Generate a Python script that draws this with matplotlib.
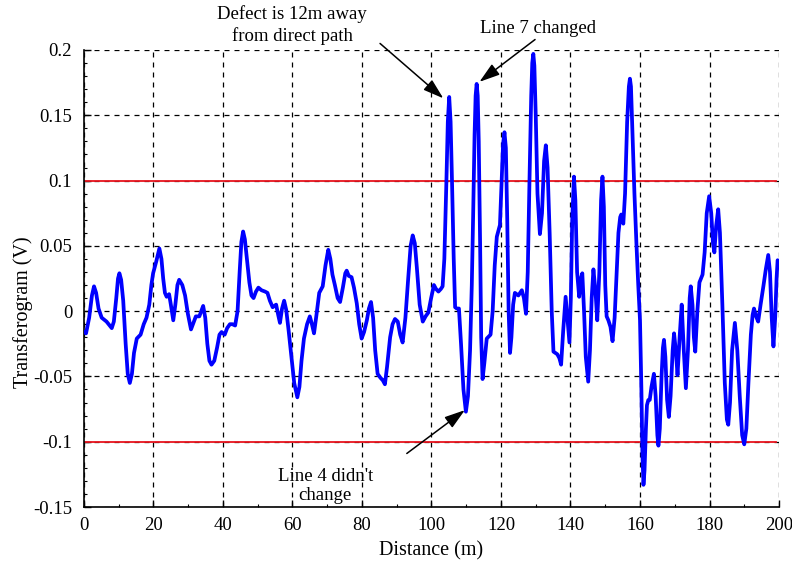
import matplotlib
matplotlib.use("Agg")
import matplotlib.pyplot as plt
from matplotlib.ticker import MultipleLocator, FixedLocator, FixedFormatter

distance = [
    0.0, 0.6, 1.5, 2.3, 2.9, 3.5, 4.2, 5.1, 6.5, 8.0, 8.6, 9.3, 9.8, 10.2, 10.7, 11.3, 12.0, 12.6, 13.2,
    13.8, 14.4, 15.2, 16.3, 17.2, 18.0, 18.8, 19.4, 19.9, 20.8, 21.7, 22.3, 22.8, 23.3, 23.8, 24.5, 25.0,
    25.7, 26.3, 26.9, 27.4, 28.3, 29.1, 29.9, 30.8, 31.5, 32.2, 33.2, 34.3, 34.9, 35.5, 36.1, 36.7, 37.5,
    38.3, 39.0, 39.6, 40.5, 41.2, 42.0, 42.7, 43.5, 44.2, 44.8, 45.3, 45.8, 46.3, 46.9, 47.6, 48.2, 48.8,
    49.5, 50.2, 51.1, 52.1, 52.8, 53.5, 54.3, 55.3, 55.9, 56.4, 57.0, 57.6, 58.2, 58.9, 59.7, 60.5, 61.4,
    62.0, 62.6, 63.3, 64.2, 65.0, 65.6, 66.2, 66.9, 67.7, 68.7, 69.5, 70.3, 70.9, 71.5, 72.2, 73.0, 73.7,
    74.5, 75.2, 75.6, 76.2, 77.0, 77.7, 78.5, 79.2, 79.9, 80.6, 81.4, 82.0, 82.6, 83.2, 83.8, 84.5, 85.3,
    86.0, 86.6, 87.2, 88.1, 88.8, 89.5, 90.3, 91.0, 91.7, 92.5, 93.3, 94.0, 94.6, 95.2, 95.8, 96.6, 97.5,
    98.3, 99.1, 99.9, 100.7, 101.3, 102.0, 102.7, 103.2, 103.7, 104.3, 104.7, 105.1, 105.5, 105.9, 106.4,
    106.8, 107.3, 107.9, 108.5, 109.2, 109.9, 110.5, 111.1, 111.6, 112.0, 112.4, 112.7, 113.0, 113.3,
    113.6, 114.0, 114.3, 114.7, 115.2, 115.9, 117.0, 117.6, 118.2, 118.8, 119.7, 120.2, 120.6, 121.0,
    121.4, 121.8, 122.2, 122.6, 123.0, 123.5, 124.0, 125.0, 126.0, 126.6, 127.2, 127.7, 128.2, 128.7,
    129.0, 129.3, 129.6, 130.0, 130.5, 131.2, 131.8, 132.4, 132.9, 133.4, 134.0, 134.6, 135.1, 136.2,
    136.8, 137.3, 137.9, 138.6, 139.2, 139.7, 140.1, 140.5, 141.0, 141.4, 141.9, 142.5, 143.0, 143.4,
    143.9, 144.4, 145.1, 145.6, 146.1, 146.6, 147.2, 147.7, 148.3, 148.8, 149.2, 149.6, 150.0, 150.4,
    150.9, 151.5, 152.1, 152.7, 153.3, 153.8, 154.3, 154.6, 155.2, 155.7, 156.3, 156.8, 157.1, 157.4,
    157.8, 158.4, 159.0, 159.5, 160.0, 160.4, 160.7, 161.0, 161.3, 161.7, 162.0, 162.4, 162.8, 163.3,
    164.0, 164.5, 165.0, 165.3, 165.7, 166.2, 166.6, 166.9, 167.3, 167.8, 168.3, 168.8, 169.4, 169.8,
    170.3, 170.8, 171.4, 172.0, 172.6, 173.2, 173.8, 174.3, 174.6, 175.1, 175.5, 175.9, 176.5, 177.1,
    178.0, 178.6, 179.2, 179.9, 180.5, 181.0, 181.4, 181.9, 182.5, 183.0, 183.7, 184.4, 185.0, 185.4,
    185.9, 186.5, 187.3, 188.0, 188.7, 189.4, 190.0, 190.6, 191.2, 191.9, 192.4, 192.8, 193.4, 194.0,
    194.7, 195.5, 196.2, 196.9, 197.4, 197.9, 198.4, 198.9, 199.3, 199.6]
transferogram = [
    -0.016, -0.017, -0.005, 0.012, 0.019, 0.014, 0.002, -0.005, -0.008, -0.013, -0.008, 0.010, 0.025,
    0.029, 0.024, 0.008, -0.025, -0.048, -0.055, -0.048, -0.032, -0.021, -0.018, -0.010, -0.005, 0.005,
    0.020, 0.029, 0.038, 0.048, 0.040, 0.025, 0.014, 0.011, 0.013, 0.005, -0.007, 0.005, 0.020, 0.024,
    0.020, 0.012, -0.002, -0.014, -0.009, -0.004, -0.004, 0.004, -0.005, -0.025, -0.038, -0.041, -0.038,
    -0.028, -0.018, -0.016, -0.018, -0.013, -0.010, -0.010, -0.011, 0.000, 0.030, 0.053, 0.061, 0.055,
    0.040, 0.022, 0.012, 0.010, 0.015, 0.018, 0.016, 0.015, 0.014, 0.008, 0.003, 0.005, -0.003, -0.009,
    0.002, 0.008, 0.001, -0.015, -0.035, -0.055, -0.066, -0.058, -0.038, -0.021, -0.010, -0.004, -0.010,
    -0.017, -0.003, 0.014, 0.019, 0.035, 0.047, 0.040, 0.028, 0.020, 0.010, 0.007, 0.018, 0.029, 0.031,
    0.027, 0.026, 0.018, 0.006, -0.010, -0.021, -0.016, -0.007, 0.002, 0.007, -0.005, -0.030, -0.048,
    -0.051, -0.053, -0.056, -0.043, -0.020, -0.010, -0.006, -0.008, -0.018, -0.024, -0.005, 0.025, 0.050,
    0.058, 0.052, 0.033, 0.005, -0.008, -0.004, -0.001, 0.010, 0.020, 0.017, 0.015, 0.017, 0.019, 0.040,
    0.100, 0.145, 0.164, 0.145, 0.100, 0.040, 0.003, 0.002, 0.002, -0.025, -0.060, -0.077, -0.065, -0.030,
    0.020, 0.075, 0.135, 0.165, 0.174, 0.165, 0.130, 0.050, -0.020, -0.052, -0.040, -0.021, -0.018, 0.000,
    0.035, 0.057, 0.066, 0.100, 0.128, 0.137, 0.125, 0.070, 0.000, -0.032, -0.020, 0.005, 0.014, 0.012,
    0.016, 0.010, -0.002, 0.030, 0.100, 0.165, 0.190, 0.197, 0.188, 0.150, 0.090, 0.059, 0.075, 0.115,
    0.127, 0.110, 0.060, 0.000, -0.031, -0.033, -0.036, -0.041, -0.015, 0.011, -0.008, -0.024, 0.010,
    0.070, 0.103, 0.085, 0.030, 0.011, 0.025, 0.029, 0.000, -0.035, -0.054, -0.030, 0.010, 0.032, 0.015,
    -0.007, 0.030, 0.085, 0.103, 0.080, 0.020, -0.004, -0.007, -0.012, -0.023, -0.005, 0.030, 0.060,
    0.072, 0.074, 0.067, 0.090, 0.145, 0.172, 0.178, 0.172, 0.140, 0.090, 0.050, 0.020, -0.007, -0.060,
    -0.110, -0.133, -0.122, -0.090, -0.072, -0.068, -0.068, -0.058, -0.048, -0.065, -0.095, -0.103,
    -0.090, -0.050, -0.028, -0.022, -0.035, -0.068, -0.081, -0.065, -0.030, -0.017, -0.030, -0.049,
    -0.020, 0.005, -0.030, -0.059, -0.030, 0.010, 0.019, 0.005, -0.020, -0.031, 0.000, 0.022, 0.028,
    0.045, 0.075, 0.088, 0.075, 0.052, 0.045, 0.065, 0.078, 0.060, 0.005, -0.055, -0.083, -0.087, -0.070,
    -0.030, -0.009, -0.030, -0.065, -0.095, -0.102, -0.090, -0.055, -0.018, -0.003, 0.002, -0.004, -0.008,
    0.005, 0.019, 0.032, 0.043, 0.030, -0.005, -0.027, -0.005, 0.025, 0.039]

threshold = 0.1
x_ticks = [0, 20, 40, 60, 80, 100, 120, 140, 160, 180, 200]
y_ticks = [-0.15, -0.1, -0.05, 0, 0.05, 0.1, 0.15, 0.2]
y_tick_labels = ["-0.15", "-0.1", "-0.05", "0", "0.05", "0.1", "0.15", "0.2"]

plt.rcParams['font.family'] = ['Liberation Serif', 'DejaVu Serif']

fig = plt.figure(figsize=(7.92, 5.66), dpi=100)
ax = fig.add_axes([0.106, 0.1042, 0.8776, 0.8075])

ax.plot(distance, transferogram, color='#0000ff', lw=2.7, solid_joinstyle='round',
        solid_capstyle='round', zorder=3)
ax.plot([0, 199], [threshold, threshold], color='#e8141e', lw=1.3, zorder=2)
ax.plot([0, 199], [-threshold, -threshold], color='#e8141e', lw=1.3, zorder=2)

ax.set_xlim(0, 200)
ax.set_ylim(-0.15, 0.2)
ax.xaxis.set_major_locator(FixedLocator(x_ticks))
ax.xaxis.set_minor_locator(MultipleLocator(10))
ax.yaxis.set_major_locator(FixedLocator(y_ticks))
ax.yaxis.set_major_formatter(FixedFormatter(y_tick_labels))
ax.yaxis.set_minor_locator(MultipleLocator(0.01))
ax.tick_params(which='both', direction='in', top=False, right=False, labelsize=13.5, color='black')
ax.tick_params(which='major', length=5, width=1)
ax.tick_params(which='minor', length=2.5, width=0.8)
ax.tick_params(axis='y', which='major', pad=8.5)
ax.tick_params(axis='x', which='major', pad=7)
ax.grid(True, which='major', color='black', ls=(0, (4, 4)), lw=0.9)
ax.spines['top'].set_visible(False)
ax.spines['right'].set_visible(False)
ax.spines['left'].set_linewidth(1.2)
ax.spines['bottom'].set_linewidth(1.2)

ax.set_xlabel("Distance (m)", fontsize=14.5)
ax.set_ylabel("Transferogram (V)", fontsize=14.5)
ax.xaxis.set_label_coords(0.5, -0.096)
ax.xaxis.label.set_verticalalignment('center')
ax.yaxis.set_label_coords(-0.088, 0.427)
ax.yaxis.label.set_verticalalignment('center')

ap = dict(arrowstyle='-|>,head_length=1.25,head_width=0.4', color='black', lw=1.1,
          shrinkA=0, shrinkB=0)

ax.annotate("", xy=(103.4, 0.163), xytext=(85.2, 0.205), arrowprops=ap, annotation_clip=False)
ax.text(59.9, 0.219, "Defect is 12m away\nfrom direct path", fontsize=13.5, ha='center',
        va='center', linespacing=1.3, clip_on=False)

ax.annotate("", xy=(113.8, 0.1756), xytext=(129.8, 0.208), arrowprops=ap, annotation_clip=False)
ax.text(130.6, 0.2165, "Line 7 changed", fontsize=13.5, ha='center', va='center', clip_on=False)

ax.annotate("", xy=(109.6, -0.0758), xytext=(92.9, -0.109), arrowprops=ap, annotation_clip=False)
ax.text(69.4, -0.134, "Line 4 didn't\nchange", fontsize=13.5, ha='center', va='center',
        linespacing=1.2, zorder=4)

fig.savefig("out.png", dpi=100)
